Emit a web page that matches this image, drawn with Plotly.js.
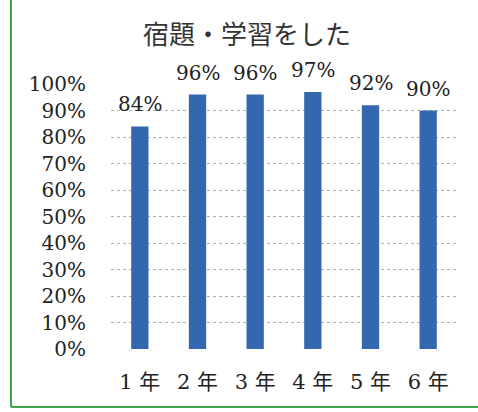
<!DOCTYPE html>
<html>
<head>
<meta charset="utf-8">
<script src="https://cdn.plot.ly/plotly-3.0.1.min.js"></script>
<style>html,body{margin:0;padding:0;background:#fff;}</style>
</head>
<body>
<div id="chart" style="width:478px;height:412px;"></div>
<script>
const categories = ["1年", "2年", "3年", "4年", "5年", "6年"];
const categoryLabels = ["1 年", "2 年", "3 年", "4 年", "5 年", "6 年"];
const values = [0.84, 0.96, 0.96, 0.97, 0.92, 0.90];
const labels = ["84%", "96%", "96%", "97%", "92%", "90%"];
const tickVals = [0, 0.1, 0.2, 0.3, 0.4, 0.5, 0.6, 0.7, 0.8, 0.9, 1.0];
const tickText = ["0%", "10%", "20%", "30%", "40%", "50%", "60%", "70%", "80%", "90%", "100%"];
const titleText = "宿題・学習をした";

const W = 478, H = 412;
const L = 111, R = 21, T = 84, B = 63;
const pw = W - L - R, ph = H - T - B;
const px = x => (x - L) / pw;
const py = y => (H - B - y) / ph;

const serif = '"DejaVu Serif", "Noto Sans CJK JP", serif';
const annotations = categories.map((c, i) => ({
  x: c, y: values[i], xref: 'x', yref: 'y',
  text: labels[i], showarrow: false, yanchor: 'bottom', yshift: 8,
  font: {family: serif, size: 20, color: '#222'}
}));

const green = '#3aa64a';
const shapes = [
  {type: 'line', xref: 'paper', yref: 'paper', x0: px(11), x1: px(11), y0: py(0), y1: py(407), line: {color: green, width: 2}},
  {type: 'line', xref: 'paper', yref: 'paper', x0: px(11), x1: px(478), y0: py(407), y1: py(407), line: {color: green, width: 2}}
];

Plotly.newPlot('chart', [{
  type: 'bar', x: categories, y: values,
  marker: {color: '#3567b0'}, hoverinfo: 'none'
}], {
  width: W, height: H,
  margin: {l: L, r: R, t: T, b: B, pad: 0},
  paper_bgcolor: '#ffffff', plot_bgcolor: '#ffffff',
  bargap: 0.7,
  showlegend: false,
  title: {text: titleText, font: {family: '"Noto Sans CJK JP", sans-serif', size: 26, color: '#333'},
          xref: 'container', yref: 'container', x: 247 / W, y: 1 - 35 / H, xanchor: 'center', yanchor: 'middle'},
  xaxis: {tickvals: categories, ticktext: categoryLabels, tickfont: {family: serif, size: 21, color: '#222'},
          showline: false, ticks: '', ticklabelstandoff: 18, fixedrange: true},
  yaxis: {range: [0, 1], tickvals: tickVals, ticktext: tickText, tickfont: {family: serif, size: 20, color: '#222'},
          showgrid: true, gridcolor: '#b0b0b0', griddash: 'dot', gridwidth: 1, zeroline: false, showline: false,
          ticks: '', ticklabelstandoff: 24, fixedrange: true},
  annotations: annotations,
  shapes: shapes
}, {displayModeBar: false, staticPlot: true});
</script>
</body>
</html>
